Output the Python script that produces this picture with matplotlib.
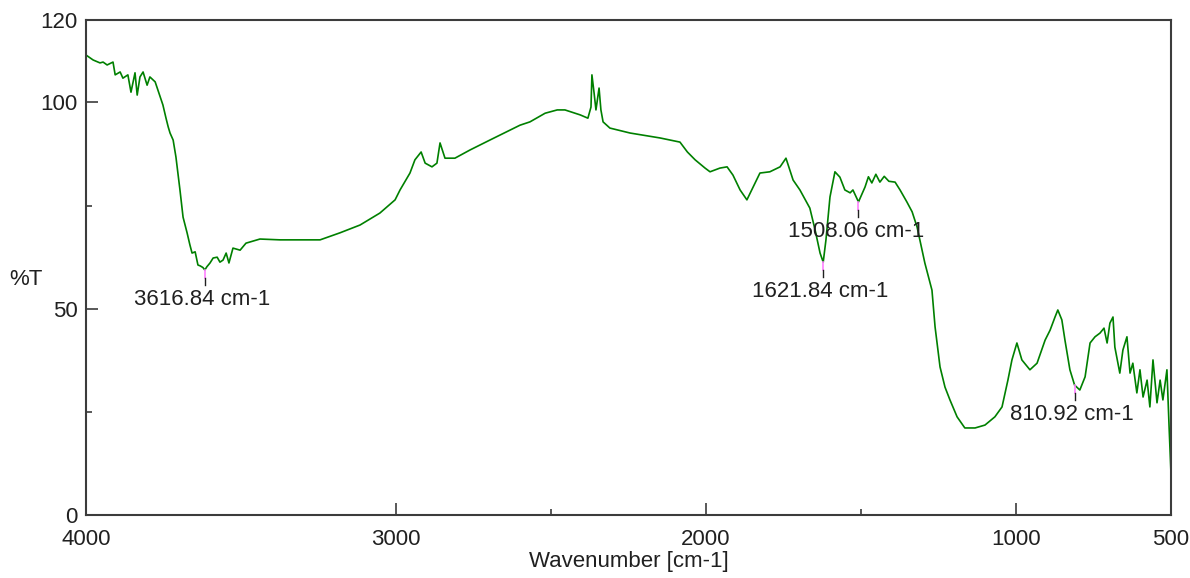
import numpy as np
import matplotlib
matplotlib.use("Agg")
import matplotlib.pyplot as plt

# IR spectrum, %T vs wavenumber (cm-1), traced points
wavenumber = [4000, 3977, 3955, 3945, 3932, 3913, 3906, 3890, 3881, 3865,
              3855, 3842, 3835, 3826, 3816, 3803, 3794, 3777, 3768, 3752,
              3742, 3735, 3729, 3719, 3710, 3697, 3687, 3674, 3665, 3658,
              3648, 3639, 3632, 3623, 3616.84, 3610, 3600, 3590, 3577, 3568,
              3558, 3548, 3539, 3526, 3503, 3484, 3439, 3374, 3310, 3245,
              3181, 3116, 3052, 3003, 2987, 2955, 2939, 2919, 2906, 2884,
              2868, 2858, 2842, 2810, 2761, 2697, 2632, 2600, 2568, 2519,
              2480, 2455, 2406, 2381, 2371, 2368, 2361, 2355, 2345, 2339,
              2332, 2310, 2245, 2148, 2084, 2060, 2035, 2003, 1987, 1955,
              1932, 1913, 1890, 1868, 1848, 1826, 1794, 1761, 1742, 1719,
              1697, 1665, 1648, 1632, 1621.84, 1613, 1600, 1584, 1568, 1552,
              1535, 1526, 1508.06, 1487, 1476, 1465, 1452, 1439, 1425, 1410,
              1390, 1374, 1352, 1335, 1319, 1294, 1271, 1261, 1245, 1229,
              1213, 1190, 1165, 1132, 1100, 1068, 1045, 1026, 1013, 997,
              981, 955, 932, 906, 890, 874, 865, 852, 842, 826,
              810.92, 794, 777, 761, 745, 729, 716, 706, 697, 687,
              681, 665, 655, 642, 632, 623, 610, 600, 590, 577,
              568, 558, 545, 535, 526, 513, 506, 500]
transmittance = [111.5, 110.3, 109.6, 109.8, 109.1, 109.8, 106.7, 107.4, 105.9, 106.7,
                 102.5, 107.2, 101.8, 106.2, 107.4, 104.2, 106.2, 105.0, 103.0, 99.4,
                 96.2, 94.1, 92.6, 90.9, 86.8, 78.8, 72.2, 68.4, 65.5, 63.5,
                 63.8, 60.6, 60.4, 60.0, 59.4, 60.2, 61.1, 62.3, 62.5, 61.3,
                 61.8, 63.5, 61.1, 64.7, 64.2, 65.9, 66.9, 66.7, 66.7, 66.7,
                 68.4, 70.3, 73.2, 76.4, 78.8, 82.9, 86.1, 88.0, 85.3, 84.4,
                 85.3, 90.2, 86.5, 86.5, 88.5, 90.9, 93.3, 94.5, 95.3, 97.4,
                 98.2, 98.2, 97.0, 96.2, 98.9, 106.7, 102.3, 98.2, 103.5, 98.2,
                 95.3, 93.8, 92.6, 91.4, 90.4, 88.0, 86.1, 84.1, 83.2, 84.1,
                 84.4, 82.4, 78.8, 76.4, 79.5, 82.9, 83.2, 84.4, 86.5, 81.2,
                 78.8, 74.4, 69.1, 63.5, 61.3, 66.7, 77.1, 83.2, 81.9, 78.8,
                 78.1, 78.8, 75.9, 79.5, 82.0, 80.5, 82.6, 80.7, 82.1, 80.9,
                 80.7, 78.8, 75.9, 73.5, 69.8, 61.1, 54.5, 45.6, 35.9, 31.0,
                 27.9, 23.8, 21.1, 21.1, 21.8, 23.8, 26.2, 32.7, 37.6, 41.7,
                 37.6, 35.2, 36.8, 42.4, 44.8, 48.0, 49.7, 47.3, 42.4, 35.2,
                 31.5, 30.3, 33.5, 41.7, 43.2, 44.1, 45.3, 41.7, 46.5, 48.0,
                 40.7, 34.4, 40.0, 43.2, 34.4, 36.8, 29.6, 35.2, 28.6, 32.7,
                 26.2, 37.6, 27.2, 32.7, 27.9, 35.2, 21.3, 10.2]

peaks = [3616.84, 1621.84, 1508.06, 810.92]
peak_labels = ["3616.84 cm-1", "1621.84 cm-1", "1508.06 cm-1", "810.92 cm-1"]

plt.rcParams["font.family"] = ["Liberation Sans", "DejaVu Sans"]
text_color = "#202020"
axis_color = "#3c3c3c"

fig = plt.figure(figsize=(11.9, 5.78), dpi=100)
ax = fig.add_axes([0.0723, 0.109, 0.9117, 0.8564])

ax.plot(wavenumber, transmittance, color="#008000", lw=1.2)

# peak markers: short pink stub under the curve, black stub, then the label
wn_sorted = np.array(wavenumber)[::-1]
t_sorted = np.array(transmittance)[::-1]
for wn, lab in zip(peaks, peak_labels):
    t = np.interp(wn, wn_sorted, t_sorted)
    ax.plot([wn, wn], [t, t - 1.9], color="#ff80ff", lw=1.2)
    ax.plot([wn, wn], [t - 1.9, t - 3.6], color="#202020", lw=1.0)
    ax.annotate(lab, xy=(wn, t - 3.6), xytext=(-2, -3), textcoords="offset points",
                ha="center", va="top", fontsize=16, color=text_color)

ax.set_xlim(4000, 500)
ax.set_ylim(0, 120)
ax.set_xticks([4000, 3000, 2000, 1000, 500])
ax.set_xticks([2500, 1500], minor=True)
ax.set_yticks([0, 50, 100, 120])
ax.set_yticks([25, 75], minor=True)

for s in ax.spines.values():
    s.set_color(axis_color)
    s.set_linewidth(1.5)
ax.tick_params(which="major", direction="in", length=8.5, width=1.2, color=axis_color,
               labelsize=16, labelcolor=text_color)
ax.tick_params(which="minor", direction="in", length=4.5, width=1.2, color=axis_color)
ax.tick_params(axis="x", which="major", pad=10)
ax.tick_params(axis="y", which="major", pad=6)

ax.set_xlabel("Wavenumber [cm-1]", fontsize=16, color=text_color, labelpad=1)
ax.set_ylabel("%T", fontsize=16, color=text_color, rotation=0, va="center", ha="center")
ax.yaxis.set_label_coords(-0.055, 0.475)

fig.savefig("out.png", dpi=100)
